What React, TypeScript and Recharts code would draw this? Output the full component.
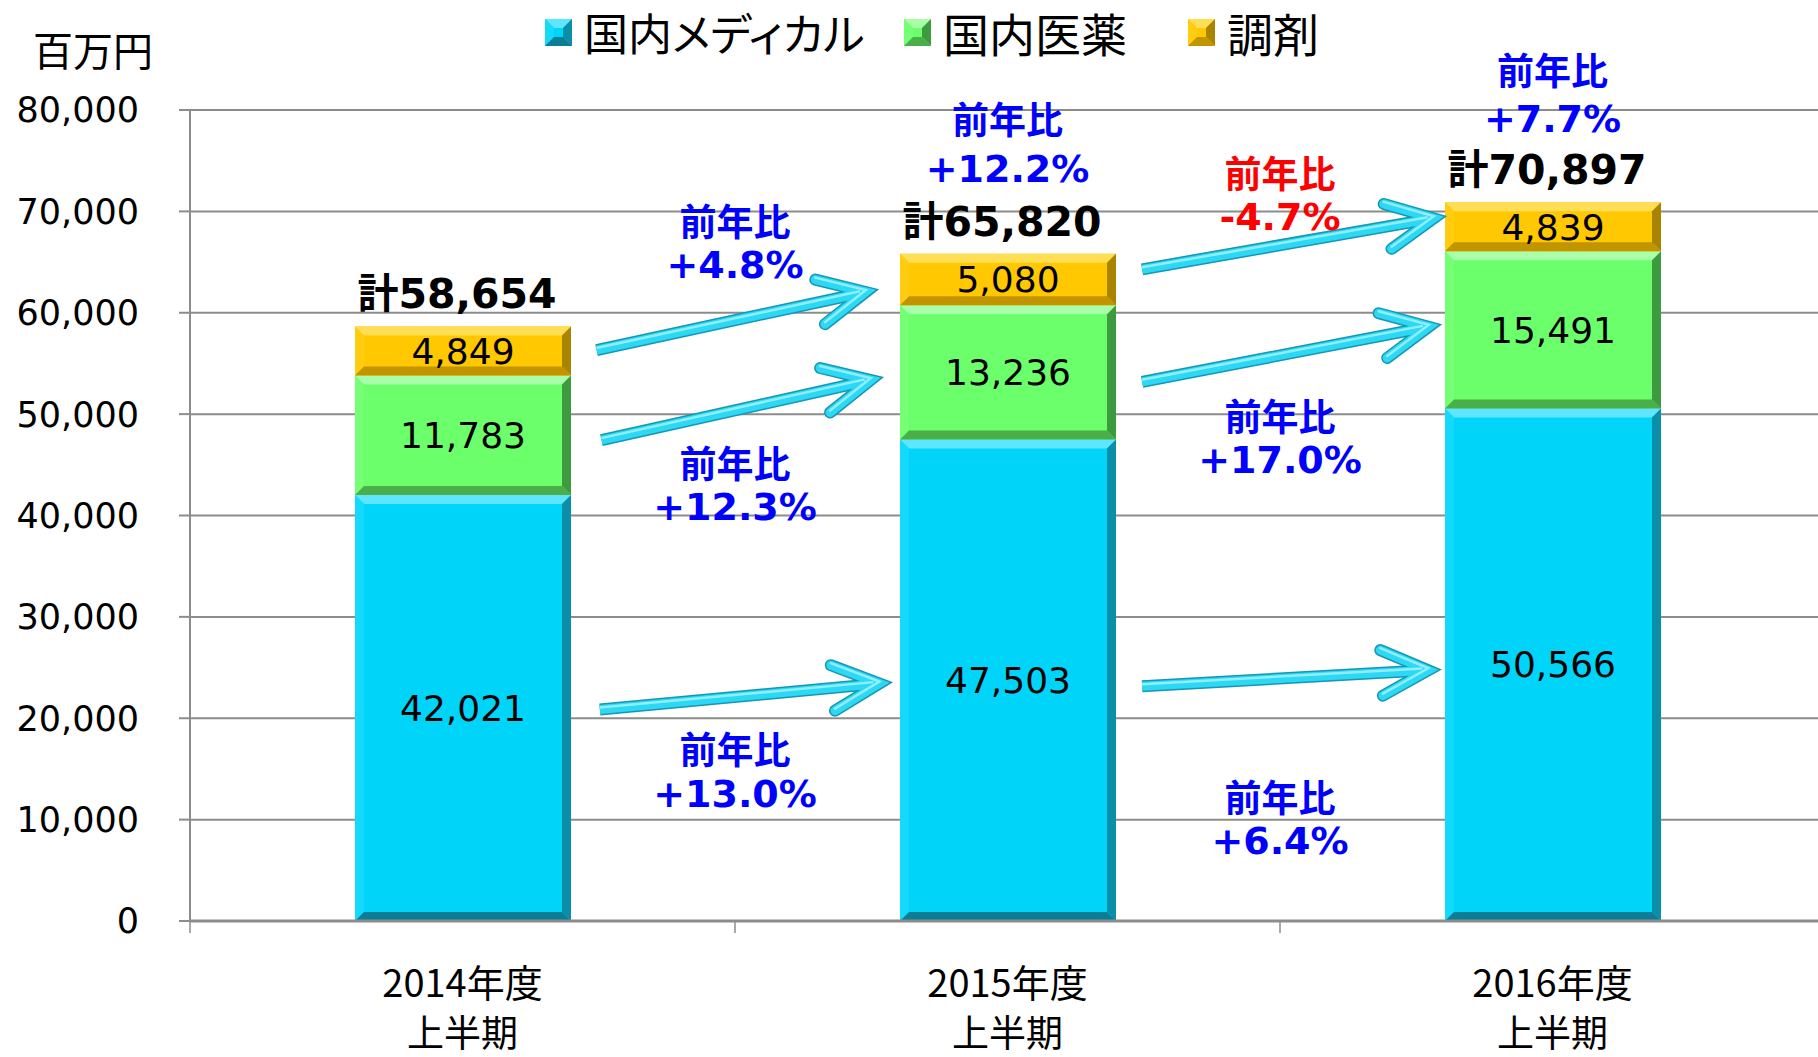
import React from 'react';
import {
  BarChart,
  Bar,
  XAxis,
  YAxis,
  CartesianGrid,
  LabelList,
  Legend,
  ReferenceLine,
  ReferenceDot,
} from 'recharts';

// ---------- data ----------
const categories = ['2014年度', '2015年度', '2016年度'];
const categoryCenters = [0.5, 1.5, 2.5];
const periodLabel = '上半期';
const seriesNames = ['国内メディカル', '国内医薬', '調剤'];
const medical = [42021, 47503, 50566];
const pharma = [11783, 13236, 15491];
const dispensing = [4849, 5080, 4839];
const totals = [58654, 65820, 70897];
const yTicks = [0, 10000, 20000, 30000, 40000, 50000, 60000, 70000, 80000];
const unitLabel = '百万円';
const growthTitle = '前年比';
const growthValues = ['+13.0%', '+12.3%', '+4.8%', '+12.2%', '+6.4%', '+17.0%', '-4.7%', '+7.7%'];

// ---------- annotation layout (data units: x on a 0..3 category scale, y in 百万円) ----------
const growthAnchors = [
  { x: 1.0, y: 14765, gap: 46 },
  { x: 1.0, y: 43092, gap: 45 },
  { x: 1.0, y: 66890, gap: 45 },
  { x: 1.5, y: 76700, gap: 51 },
  { x: 2.0, y: 10077, gap: 45 },
  { x: 2.0, y: 47662, gap: 45 },
  { x: 2.0, y: 71636, gap: 45 },
  { x: 2.5, y: 81536, gap: 50 },
];
const arrowSegments = [
  [{ x: 0.752, y: 20855 }, { x: 1.265, y: 23421 }],
  [{ x: 0.755, y: 47435 }, { x: 1.249, y: 53357 }],
  [{ x: 0.746, y: 56318 }, { x: 1.24, y: 62044 }],
  [{ x: 1.747, y: 23155 }, { x: 2.272, y: 24734 }],
  [{ x: 1.747, y: 53189 }, { x: 2.273, y: 58618 }],
  [{ x: 1.747, y: 64283 }, { x: 2.282, y: 69317 }],
];

const data = categories.map((c, i) => ({
  category: c,
  pos: categoryCenters[i],
  medical: medical[i],
  pharma: pharma[i],
  dispensing: dispensing[i],
  total: totals[i],
}));

// ---------- styles ----------
const palettes = {
  medical: { base: '#00D4F9', light: '#5FE6FF', left: '#14D9FB', right: '#0B8EA8', bottom: '#0A7E96' },
  pharma: { base: '#6BFF6B', light: '#A9FFA9', left: '#74FF74', right: '#3E9A3E', bottom: '#4AAE4A' },
  dispensing: { base: '#FFC800', light: '#FFDD55', left: '#FFCC10', right: '#A88400', bottom: '#C29400' },
};
const legendColors = [palettes.medical, palettes.pharma, palettes.dispensing];

const NUM_FONT = '"DejaVu Sans", "Noto Sans CJK JP", sans-serif';
const JP_FONT = '"Noto Sans CJK JP", sans-serif';
const GRID = '#8c8c8c';

const fmt = (v: number) => Number(v).toLocaleString('en-US');

const BevelRect = ({ x, y, width, height, pal }: any) => {
  if (!height || height <= 0 || !width) return null;
  const b = Math.min(9, height / 2, width / 2);
  const x2 = x + width;
  const y2 = y + height;
  return (
    <g>
      <rect x={x} y={y} width={width} height={height} fill={pal.base} />
      <polygon points={`${x},${y} ${x2},${y} ${x2 - b},${y + b} ${x + b},${y + b}`} fill={pal.light} />
      <polygon points={`${x},${y} ${x + b},${y + b} ${x + b},${y2 - b} ${x},${y2}`} fill={pal.left} />
      <polygon points={`${x2},${y} ${x2},${y2} ${x2 - b},${y2 - b} ${x2 - b},${y + b}`} fill={pal.right} />
      <polygon points={`${x},${y2} ${x + b},${y2 - b} ${x2 - b},${y2 - b} ${x2},${y2}`} fill={pal.bottom} />
    </g>
  );
};

const makeShape = (pal: any) => (props: any) => <BevelRect {...props} pal={pal} />;

// category label + tick mark on the left boundary of each category band
const CategoryTick = ({ x, y, payload, width, visibleTicksCount }: any) => {
  const half =
    payload && typeof payload.offset === 'number' && payload.offset > 0
      ? payload.offset
      : width && visibleTicksCount
      ? width / visibleTicksCount / 2
      : 0;
  return (
    <g>
      {half > 0 && <line x1={x - half} y1={y} x2={x - half} y2={y + 12} stroke={GRID} strokeWidth={1.5} />}
      <text x={x} y={y + 59} textAnchor="middle" dominantBaseline="central" fontFamily={JP_FONT} fontSize={38} fill="#000">
        {payload.value}
      </text>
      <text x={x} y={y + 110} textAnchor="middle" dominantBaseline="central" fontFamily={JP_FONT} fontSize={37} fill="#000">
        {periodLabel}
      </text>
    </g>
  );
};

const TotalLabel = (props: any) => {
  const { x, y, width, value } = props;
  return (
    <text
      x={x + width / 2 - 6}
      y={y - 32}
      textAnchor="middle"
      dominantBaseline="central"
      fontFamily={NUM_FONT}
      fontWeight="bold"
      fontSize={41}
      fill="#000"
    >
      {'計' + fmt(value)}
    </text>
  );
};

const Arrow = (props: any) => {
  const { x1, y1, x2, y2 } = props;
  if ([x1, y1, x2, y2].some((v) => v === undefined || Number.isNaN(v))) return null;
  const ang = Math.atan2(y2 - y1, x2 - x1);
  const L = 52;
  const a = (26 * Math.PI) / 180;
  const bx1 = x2 - L * Math.cos(ang - a);
  const by1 = y2 - L * Math.sin(ang - a);
  const bx2 = x2 - L * Math.cos(ang + a);
  const by2 = y2 - L * Math.sin(ang + a);
  const sx = x2 - 6 * Math.cos(ang);
  const sy = y2 - 6 * Math.sin(ang);
  const shaft = `M${x1},${y1} L${sx},${sy}`;
  const head = `M${bx1},${by1} L${x2},${y2} L${bx2},${by2}`;
  return (
    <g>
      <path d={shaft} stroke="#1596B4" strokeWidth={12} strokeLinecap="butt" fill="none" />
      <path d={head} stroke="#1596B4" strokeWidth={12} strokeLinecap="round" strokeLinejoin="miter" fill="none" />
      <path d={shaft} stroke="#2DD8F4" strokeWidth={9} strokeLinecap="butt" fill="none" />
      <path d={head} stroke="#2DD8F4" strokeWidth={9} strokeLinecap="round" strokeLinejoin="miter" fill="none" />
      <path d={shaft} stroke="#8FEFFF" strokeWidth={2.5} strokeLinecap="butt" fill="none" transform="translate(0,-2)" />
      <path d={head} stroke="#8FEFFF" strokeWidth={2.5} strokeLinecap="round" strokeLinejoin="miter" fill="none" transform="translate(0,-2)" />
    </g>
  );
};

const makeGrowthShape = (value: string, gap: number) => (props: any) => {
  const { cx, cy } = props;
  const color = value.startsWith('-') ? '#FF0000' : '#0000FF';
  return (
    <g>
      <text x={cx} y={cy - gap / 2} textAnchor="middle" dominantBaseline="central" fontFamily={JP_FONT} fontWeight="bold" fontSize={37} fill={color}>
        {growthTitle}
      </text>
      <text x={cx} y={cy + gap / 2} textAnchor="middle" dominantBaseline="central" fontFamily={NUM_FONT} fontWeight="bold" fontSize={38} fill={color}>
        {value}
      </text>
    </g>
  );
};

const LegendIcon = ({ pal }: any) => (
  <svg width={27} height={27} style={{ display: 'block' }}>
    <BevelRect x={0} y={0} width={27} height={27} pal={pal} />
  </svg>
);

const legendIconX = [545, 904, 1188];

const LegendContent = () => (
  <div style={{ position: 'relative', width: 1818, height: 70 }}>
    {seriesNames.map((name, i) => (
      <div key={name} style={{ position: 'absolute', left: legendIconX[i], top: -3, height: 70, display: 'flex', alignItems: 'center' }}>
        <LegendIcon pal={legendColors[i]} />
        <span
          style={{
            marginLeft: 12,
            fontFamily: JP_FONT,
            fontSize: i === 0 ? 44 : 46,
            lineHeight: '70px',
            color: '#000',
            fontFeatureSettings: '"palt"',
            whiteSpace: 'nowrap',
          }}
        >
          {name}
        </span>
      </div>
    ))}
  </div>
);

const UnitLabel = (props: any) => {
  const { viewBox } = props;
  if (!viewBox) return null;
  return (
    <text x={viewBox.x + 93} y={viewBox.y - 61} textAnchor="middle" dominantBaseline="central" fontFamily={JP_FONT} fontSize={40} fill="#000">
      {unitLabel}
    </text>
  );
};

export default function App() {
  return (
    <div style={{ position: 'absolute', left: 0, top: 0, width: 1818, height: 1057, overflow: 'hidden', background: '#fff' }}>
      <BarChart width={1825} height={1057} data={data} margin={{ top: 40, right: 0, bottom: 0, left: 0 }} barCategoryGap={0}>
        <Legend
          verticalAlign="top"
          align="left"
          content={<LegendContent />}
          wrapperStyle={{ top: 0, left: 0, width: 1818, height: 70 }}
        />
        <CartesianGrid xAxisId="cat" vertical={false} stroke={GRID} strokeWidth={2} />
        <XAxis
          xAxisId="cat"
          dataKey="category"
          interval={0}
          tickLine={false}
          tickSize={0}
          tickMargin={0}
          axisLine={{ stroke: GRID, strokeWidth: 3 }}
          tick={<CategoryTick />}
          height={136}
        />
        <XAxis xAxisId="num" dataKey="pos" type="number" domain={[0, 3]} allowDataOverflow hide />
        <YAxis
          domain={[0, 80000]}
          ticks={yTicks}
          allowDataOverflow
          width={190}
          tickSize={11}
          tickMargin={40}
          tickFormatter={fmt}
          axisLine={{ stroke: GRID, strokeWidth: 2 }}
          tickLine={{ stroke: GRID, strokeWidth: 2 }}
          tick={{ fill: '#000', fontSize: 35, fontFamily: NUM_FONT }}
          label={<UnitLabel />}
        />
        <Bar xAxisId="cat" dataKey="medical" name={seriesNames[0]} stackId="s" barSize={216} isAnimationActive={false} shape={makeShape(palettes.medical)}>
          <LabelList dataKey="medical" position="center" formatter={fmt} fill="#000" fontSize={36} fontFamily={NUM_FONT} />
        </Bar>
        <Bar xAxisId="cat" dataKey="pharma" name={seriesNames[1]} stackId="s" barSize={216} isAnimationActive={false} shape={makeShape(palettes.pharma)}>
          <LabelList dataKey="pharma" position="center" formatter={fmt} fill="#000" fontSize={36} fontFamily={NUM_FONT} />
        </Bar>
        <Bar xAxisId="cat" dataKey="dispensing" name={seriesNames[2]} stackId="s" barSize={216} isAnimationActive={false} shape={makeShape(palettes.dispensing)}>
          <LabelList dataKey="dispensing" position="center" formatter={fmt} fill="#000" fontSize={36} fontFamily={NUM_FONT} />
          <LabelList dataKey="total" content={<TotalLabel />} />
        </Bar>
        {arrowSegments.map((seg, i) => (
          <ReferenceLine key={'a' + i} xAxisId="num" segment={seg} ifOverflow="visible" shape={<Arrow />} />
        ))}
        {growthValues.map((v, i) => (
          <ReferenceDot
            key={'g' + i}
            xAxisId="num"
            x={growthAnchors[i].x}
            y={growthAnchors[i].y}
            r={0}
            ifOverflow="visible"
            shape={makeGrowthShape(v, growthAnchors[i].gap)}
          />
        ))}
      </BarChart>
    </div>
  );
}
